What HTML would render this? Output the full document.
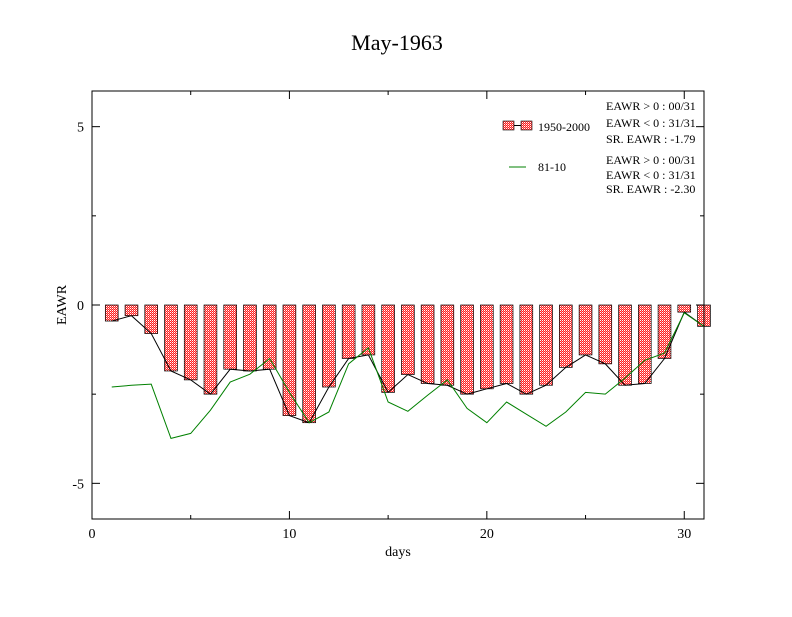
<!DOCTYPE html>
<html><head><meta charset="utf-8"><style>
body{margin:0;background:#fff}
svg text{font-family:"Liberation Serif",serif;fill:#000}
</style></head><body>
<svg id="c" width="792" height="612" xmlns="http://www.w3.org/2000/svg">
<defs>
<pattern id="hatch" width="2" height="2" patternUnits="userSpaceOnUse">
<rect width="2" height="2" fill="#ff2020"/><rect width="1" height="1" fill="#fff"/><rect x="1" y="1" width="1" height="1" fill="#ff9090"/>
</pattern>
</defs>
<rect width="792" height="612" fill="#fff"/>
<text x="397" y="50" font-size="22" text-anchor="middle">May-1963</text>
<g id="plot"></g>
<rect x="92" y="91" width="612" height="428" fill="none" stroke="#000" stroke-width="1"/>
<text x="398" y="556" font-size="14" text-anchor="middle">days</text>
<text transform="translate(66,305) rotate(-90)" font-size="14" text-anchor="middle">EAWR</text>
<g>
<rect x="503" y="121" width="11" height="9" fill="url(#hatch)" stroke="#000" stroke-width="0.6"/>
<line x1="514" y1="125.5" x2="521" y2="125.5" stroke="#000"/>
<rect x="521" y="121" width="11" height="9" fill="url(#hatch)" stroke="#000" stroke-width="0.6"/>
<text x="538" y="131" font-size="12">1950-2000</text>
<line x1="509" y1="167" x2="526" y2="167" stroke="#008000"/>
<text x="538" y="171" font-size="12">81-10</text>
<text x="606" y="110" font-size="12">EAWR &gt; 0 : 00/31</text>
<text x="606" y="127" font-size="12">EAWR &lt; 0 : 31/31</text>
<text x="606" y="143" font-size="12">SR. EAWR : -1.79</text>
<text x="606" y="164" font-size="12">EAWR &gt; 0 : 00/31</text>
<text x="606" y="179" font-size="12">EAWR &lt; 0 : 31/31</text>
<text x="606" y="193" font-size="12">SR. EAWR : -2.30</text>
</g>
</svg>
<script>
const days=[1,2,3,4,5,6,7,8,9,10,11,12,13,14,15,16,17,18,19,20,21,22,23,24,25,26,27,28,29,30,31];
const bars=[-0.45,-0.3,-0.8,-1.85,-2.1,-2.5,-1.8,-1.85,-1.8,-3.1,-3.3,-2.3,-1.5,-1.4,-2.45,-1.95,-2.2,-2.25,-2.5,-2.35,-2.2,-2.5,-2.25,-1.75,-1.4,-1.65,-2.25,-2.2,-1.5,-0.2,-0.6];
const green=[-2.3,-2.25,-2.22,-3.74,-3.6,-2.95,-2.16,-1.94,-1.5,-2.45,-3.3,-3.0,-1.65,-1.2,-2.72,-2.98,-2.53,-2.1,-2.9,-3.3,-2.72,-3.06,-3.4,-3.0,-2.45,-2.5,-2.05,-1.55,-1.35,-0.22,-0.6];
const xTicks=[0,10,20,30];
const yTicks=[-5,0,5];
const X=v=>92+v*(612/31);
const Y=v=>305-v*(214/6);
const NS="http://www.w3.org/2000/svg";
const g=document.getElementById('plot');
function mk(t,a){const e=document.createElementNS(NS,t);for(const k in a)e.setAttribute(k,a[k]);g.appendChild(e);return e;}
const bw=0.65*(612/31);
days.forEach((d,i)=>{
 const y0=Y(0),y1=Y(bars[i]);
 const r=mk('rect',{x:X(d)-bw/2,y:Math.min(y0,y1),width:bw,height:Math.abs(y1-y0),fill:'url(#hatch)',stroke:'#000','stroke-width':0.7});
 
 
});
const bl=mk('polyline',{points:days.map((d,i)=>X(d)+','+Y(bars[i])).join(' '),fill:'none',stroke:'#000','stroke-width':1});


const gl=mk('polyline',{points:days.map((d,i)=>X(d)+','+Y(green[i])).join(' '),fill:'none',stroke:'#008000','stroke-width':1});


xTicks.forEach(v=>{
 mk('line',{x1:X(v),y1:519,x2:X(v),y2:511,stroke:'#000'});
 mk('line',{x1:X(v),y1:91,x2:X(v),y2:99,stroke:'#000'});
 const t=mk('text',{x:X(v),y:538,'font-size':14,'text-anchor':'middle'});t.textContent=v;
 
 
});
for(let v=5;v<31;v+=10){mk('line',{x1:X(v),y1:519,x2:X(v),y2:515,stroke:'#000'});mk('line',{x1:X(v),y1:91,x2:X(v),y2:95,stroke:'#000'});}
yTicks.forEach(v=>{
 mk('line',{x1:92,y1:Y(v),x2:100,y2:Y(v),stroke:'#000'});
 mk('line',{x1:704,y1:Y(v),x2:696,y2:Y(v),stroke:'#000'});
 const t=mk('text',{x:84,y:Y(v)+5,'font-size':14,'text-anchor':'end'});t.textContent=v;
 
 
});
[-2.5,2.5].forEach(v=>{mk('line',{x1:92,y1:Y(v),x2:96,y2:Y(v),stroke:'#000'});mk('line',{x1:704,y1:Y(v),x2:700,y2:Y(v),stroke:'#000'});});
</script>
</body></html>
